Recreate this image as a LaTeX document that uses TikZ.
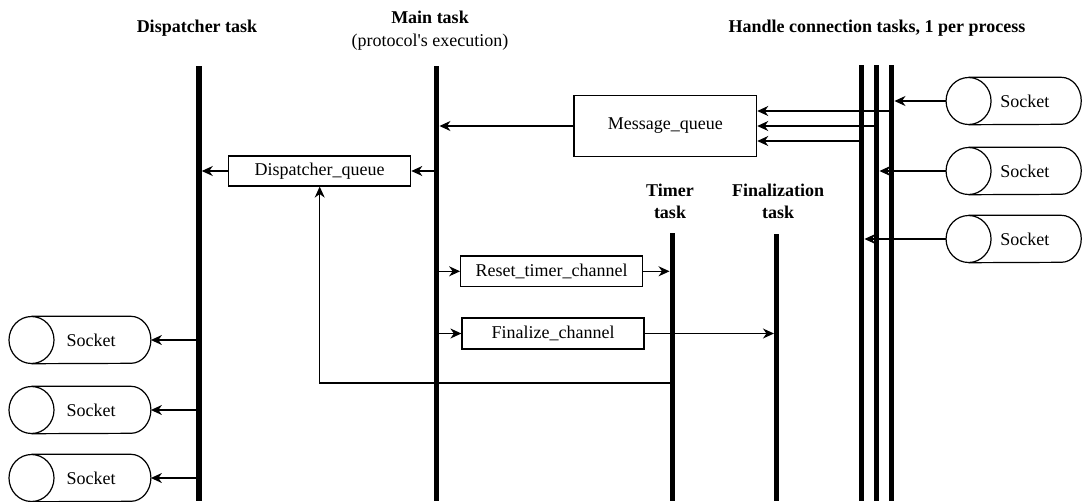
\documentclass[tikz,border=0pt]{standalone}
\usepackage{fontspec}
\setmainfont{Liberation Serif}
\usetikzlibrary{arrows.meta}
\begin{document}
\begin{tikzpicture}[x=1pt, y=-1pt,
  font=\fontsize{18}{22.7}\selectfont,
  bar/.style={line width=5.5pt},
  box/.style={draw, line width=1.2pt, inner sep=0pt},
  arr/.style={line width=1.2pt, -{Stealth[length=11pt, width=10pt, inset=3.5pt]}},
  tobar/.style={shorten >=2.75pt},
  title/.style={align=center, inner sep=0pt},
  socket/.style={minimum width=#1, minimum height=47pt, inner sep=0pt,
    append after command={\pgfextra{
      \draw[line width=1.2pt] (\tikzlastnode.west) ellipse [x radius=22.5pt, y radius=23.5pt];
      \draw[line width=1.2pt] (\tikzlastnode.north west) -- ([xshift=-20pt]\tikzlastnode.north east)
        arc[start angle=90, end angle=-90, x radius=20pt, y radius=23.5pt]
        -- (\tikzlastnode.south west);
    }}}]

\fill[white] (0,0) rectangle (1083,501);
\useasboundingbox (0,0) rectangle (1083,501);

% lifeline headings
\node[title] (tdisp) at (197,28) {\textbf{Dispatcher task}};
\node[title] (tmain) at (430,30.5) {\textbf{Main task}\\(protocol\textquotesingle s execution)};
\node[title] (thandle) at (877,27.7) {\textbf{Handle connection tasks, 1 per process}};
\node[title] (ttimer) at (670,201.4) {\textbf{Timer}\\\textbf{task}};
\node[title] (tfin) at (778,201.4) {\textbf{Finalization}\\\textbf{task}};

% lifelines
\coordinate (dT) at (199,66);    \coordinate (dB) at (199,501);
\coordinate (mT) at (436.7,66);  \coordinate (mB) at (436.7,501);
\coordinate (tT) at (672.3,233); \coordinate (tB) at (672.3,501);
\coordinate (fT) at (776.7,234); \coordinate (fB) at (776.7,501);
\coordinate (h1T) at (861.7,65); \coordinate (h1B) at (861.7,501);
\coordinate (h2T) at (876.7,65); \coordinate (h2B) at (876.7,501);
\coordinate (h3T) at (891.7,65); \coordinate (h3B) at (891.7,501);
\foreach \a/\b in {dT/dB, mT/mB, tT/tB, fT/fB, h1T/h1B, h2T/h2B, h3T/h3B}
  \draw[bar] (\a) -- (\b);

% queues and channels
\node[box, minimum width=182pt, minimum height=30pt] (dq) at (319.7,171) {Dispatcher\_queue};
\node[box, minimum width=182.7pt, minimum height=60.3pt] (mq) at (665.3,126) {Message\_queue};
\node[box, minimum width=182pt, minimum height=30.7pt] (rt) at (551.7,271.3) {Reset\_timer\_channel};
\node[box, minimum width=182pt, minimum height=31pt] (fc) at (553,333.5) {Finalize\_channel};

% sockets
\node[socket=119pt] (l1) at (91.2,340) {Socket};
\node[socket=119pt] (l2) at (91.2,410) {Socket};
\node[socket=119pt] (l3) at (91.2,478) {Socket};
\node[socket=112.3pt] (r1) at (1024.9,101) {Socket};
\node[socket=112.3pt] (r2) at (1024.9,171) {Socket};
\node[socket=112.3pt] (r3) at (1024.9,239) {Socket};

% main task messages
\draw[arr, tobar] (mq.west) -- (mq.west -| mT);
\draw[arr] (dq.east -| mT) -- (dq.east);
\draw[arr, tobar] (dq.west) -- (dq.west -| dT);
\draw[arr] (rt.west -| mT) -- (rt.west);
\draw[arr, tobar] (rt.east) -- (rt.east -| tT);
\draw[arr] (fc.west -| mT) -- (fc.west);
\draw[arr, tobar] (fc.east) -- (fc.east -| fT);
\coordinate (tl) at (672.3,383);
\draw[arr] (tl) -| (dq.south);

% handle connection tasks into the message queue
\coordinate (m3) at ([yshift=15pt]mq.east);
\coordinate (m1) at ([yshift=-15pt]mq.east);
\draw[arr] (m3 -| h3T) -- (m3);
\draw[arr] (mq.east -| h2T) -- (mq.east);
\draw[arr] (m1 -| h1T) -- (m1);

% incoming sockets
\draw[arr, tobar] ([xshift=-22.5pt]r1.west) -- (r1.west -| h3T);
\draw[arr, tobar] ([xshift=-22.5pt]r2.west) -- (r2.west -| h2T);
\draw[arr, tobar] ([xshift=-22.5pt]r3.west) -- (r3.west -| h1T);

% outgoing sockets
\draw[arr] (l1.east -| dT) -- (l1.east);
\draw[arr] (l2.east -| dT) -- (l2.east);
\draw[arr] (l3.east -| dT) -- (l3.east);
\end{tikzpicture}
\end{document}
